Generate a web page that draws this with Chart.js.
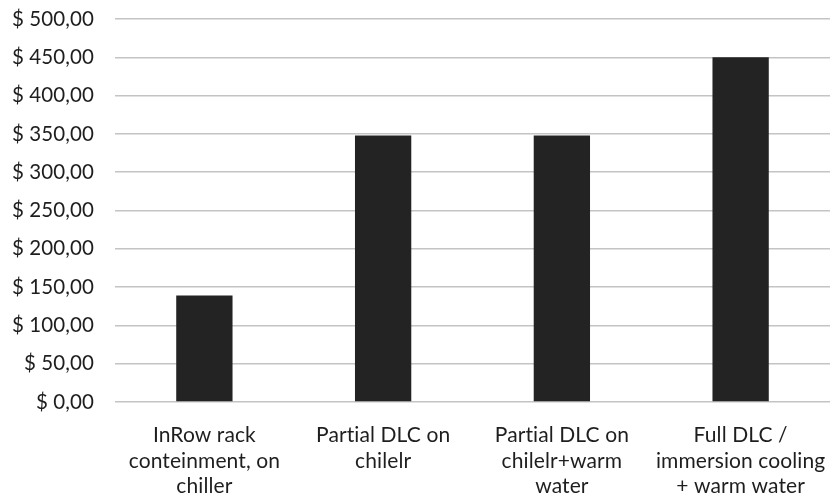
<!DOCTYPE html>
<html>
<head>
<meta charset="utf-8">
<script src="https://cdn.jsdelivr.net/npm/chart.js@4/dist/chart.umd.min.js"></script>
<style>
  html, body { margin: 0; padding: 0; background: #fff; }
  #wrap { width: 830px; height: 501px; position: relative; }
</style>
</head>
<body>
<div id="wrap"><canvas id="c" width="830" height="501"></canvas></div>
<script>
// Cost per cooling approach
const categories = [
  ['InRow rack', 'conteinment, on', 'chiller'],
  ['Partial DLC on', 'chilelr'],
  ['Partial DLC on', 'chilelr+warm', 'water'],
  ['Full DLC /', 'immersion cooling', '+ warm water']
];
const costs = [139, 348, 348, 450];
const yTicks = [0, 50, 100, 150, 200, 250, 300, 350, 400, 450, 500];

const FONT = 'Lato, "Open Sans", sans-serif';
const fmt = v => '$ ' + Number(v).toFixed(2).replace('.', ',');

// A tiny letter spacing keeps "ti" from being drawn as a ligature
const plainText = {
  id: 'plainText',
  beforeInit(chart) { if ('letterSpacing' in chart.ctx) chart.ctx.letterSpacing = '0.1px'; },
  beforeDraw(chart) { if ('letterSpacing' in chart.ctx) chart.ctx.letterSpacing = '0.1px'; }
};

new Chart(document.getElementById('c'), {
  type: 'bar',
  data: {
    labels: categories,
    datasets: [{
      data: costs,
      backgroundColor: '#232323',
      borderWidth: 0,
      barPercentage: 0.63,
      categoryPercentage: 0.5
    }]
  },
  plugins: [plainText],
  options: {
    responsive: false,
    animation: false,
    devicePixelRatio: 1,
    layout: { padding: { top: 19, right: 0, bottom: 0, left: 0 } },
    plugins: { legend: { display: false }, tooltip: { enabled: false } },
    scales: {
      x: {
        grid: { display: false, drawTicks: false },
        border: { display: false },
        afterFit: s => {
          s.height = 99;
          s.paddingLeft = 0;
          s.paddingRight = 0;
        },
        ticks: {
          color: '#1e1e1e',
          padding: 21,
          maxRotation: 0,
          autoSkip: false,
          font: { family: FONT, size: 21 },
          lineHeight: 1.22
        }
      },
      y: {
        min: 0,
        max: 500,
        afterBuildTicks: s => { s.ticks = yTicks.map(v => ({ value: v })); },
        afterFit: s => {
          s.width = 115;
          s.paddingTop = 0;
          s.paddingBottom = 0;
        },
        grid: { color: '#c4c4c4', lineWidth: 1.5, drawTicks: false },
        border: { display: false },
        ticks: {
          color: '#1e1e1e',
          padding: 21,
          font: { family: FONT, size: 20.5 },
          callback: v => fmt(v)
        }
      }
    }
  }
});
</script>
</body>
</html>
